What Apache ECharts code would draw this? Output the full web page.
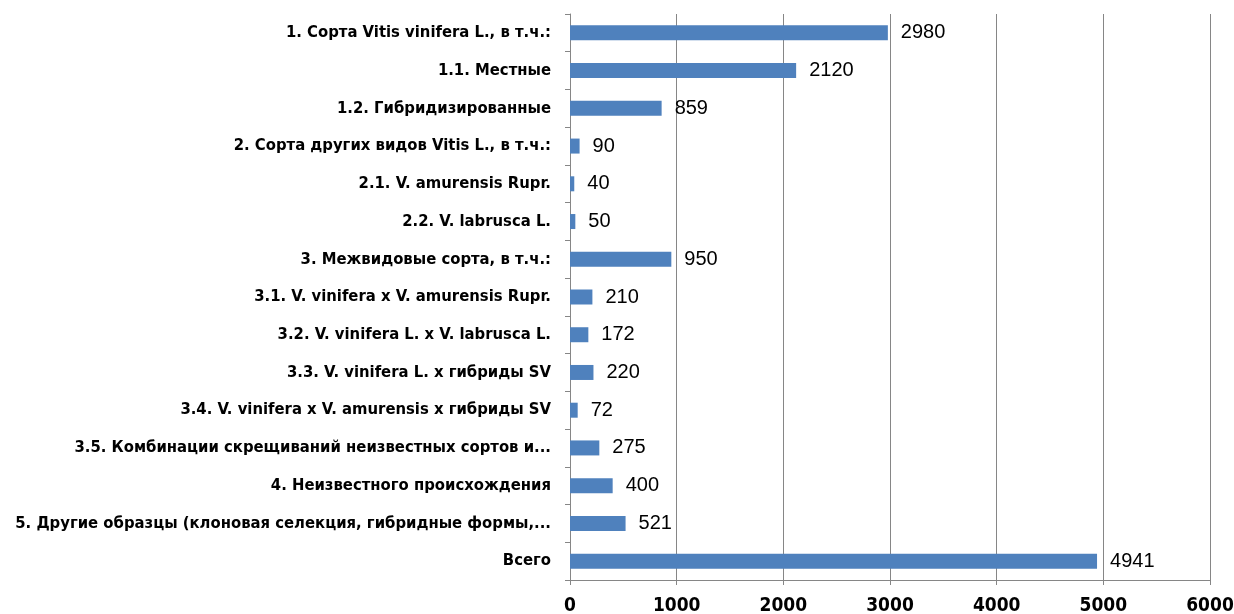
<!DOCTYPE html>
<html>
<head>
<meta charset="utf-8">
<script src="https://cdn.jsdelivr.net/npm/echarts@6/dist/echarts.min.js"></script>
<style>html,body{margin:0;padding:0;background:#fff}#c{width:1234px;height:614px}</style>
</head>
<body>
<div id="c"></div>
<script>
const categories = [
  "1. Сорта Vitis vinifera L., в т.ч.:",
  "1.1. Местные",
  "1.2. Гибридизированные",
  "2. Сорта других видов Vitis L., в т.ч.:",
  "2.1. V. amurensis Rupr.",
  "2.2. V. labrusca L.",
  "3. Межвидовые сорта, в т.ч.:",
  "3.1. V. vinifera x V. amurensis Rupr.",
  "3.2. V. vinifera L. x V. labrusca L.",
  "3.3. V. vinifera L. x гибриды SV",
  "3.4. V. vinifera x V. amurensis x гибриды SV",
  "3.5. Комбинации скрещиваний неизвестных сортов и...",
  "4. Неизвестного происхождения",
  "5. Другие образцы (клоновая селекция, гибридные формы,...",
  "Всего"
];
const values = [2980, 2120, 859, 90, 40, 50, 950, 210, 172, 220, 72, 275, 400, 521, 4941];
const xTicks = { min: 0, max: 6000, interval: 1000 };

const condensed = "'DejaVu Sans Condensed', 'DejaVu Sans', sans-serif";
const chart = echarts.init(document.getElementById('c'));
chart.setOption({
  animation: false,
  grid: { left: 570, right: 24, top: 14, bottom: 34, containLabel: false, outerBoundsMode: 'none' },
  xAxis: {
    type: 'value', min: xTicks.min, max: xTicks.max, interval: xTicks.interval,
    axisLine: { show: true, lineStyle: { color: '#868686', width: 1 } },
    axisTick: { show: true, length: 5, lineStyle: { color: '#868686' } },
    splitLine: { show: true, lineStyle: { color: '#868686', width: 1 } },
    axisLabel: { fontFamily: condensed, fontWeight: 'bold', fontSize: 19, color: '#000', margin: 17,
      formatter: v => String(v) }
  },
  yAxis: {
    type: 'category', data: categories, inverse: true,
    axisLine: { show: true, lineStyle: { color: '#868686', width: 1 } },
    axisTick: { show: true, length: 5, lineStyle: { color: '#868686' } },
    axisLabel: { fontFamily: condensed, fontWeight: 'bold', fontSize: 16.5, color: '#000', margin: 19 }
  },
  series: [{
    type: 'bar', data: values, barWidth: 15,
    itemStyle: { color: '#4f81bd' },
    label: { show: true, position: 'right', distance: 13, fontFamily: 'Liberation Sans', fontSize: 20, color: '#000' }
  }]
});
</script>
</body>
</html>
